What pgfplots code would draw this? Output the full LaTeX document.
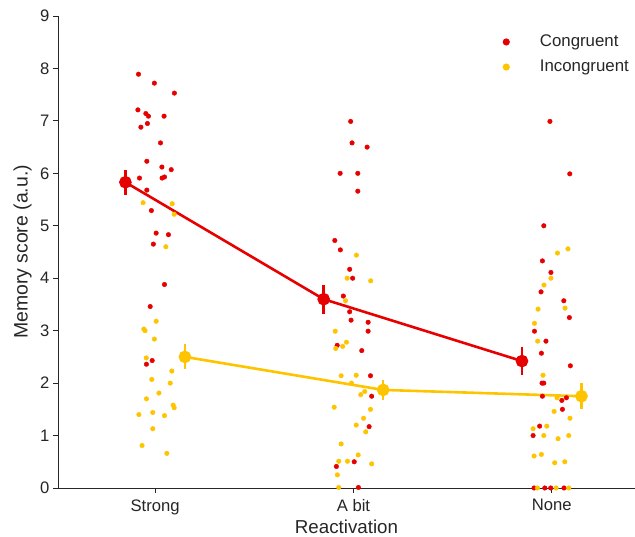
\documentclass[border=0pt]{standalone}
\usepackage{pgfplots}
\pgfplotsset{compat=1.18}
\usepackage{fontspec}
\setmainfont{Liberation Sans}
\usetikzlibrary{calc}
\definecolor{cred}{RGB}{230,0,0}
\definecolor{cyel}{RGB}{255,196,0}
\definecolor{spine}{RGB}{38,38,38}
\begin{document}
\begin{tikzpicture}
\begin{axis}[
  name=ax,
  scale only axis,
  width=577bp, height=472bp,
  xmin=-0.49, xmax=2.42, ymin=0, ymax=9,
  axis x line*=bottom, axis y line*=left,
  axis line style={spine, line width=0.9bp},
  xtick={0,1,2}, xticklabels={Strong,A bit,None},
  ytick={0,1,2,3,4,5,6,7,8,9},
  tick align=outside,
  major tick length=5bp,
  tick style={spine, line width=0.9bp},
  /pgf/number format/assume math mode=true,
  ticklabel style={font=\fontsize{16.7}{20}\selectfont, text=spine},
  xticklabel style={yshift=-3bp},
  xlabel={Reactivation}, ylabel={Memory score (a.u.)},
  every axis x label/.style={at={(axis description cs:0.5,-0.0816)}, anchor=center,
     font=\fontsize{18.8}{22}\selectfont, text=spine},
  every axis y label/.style={at={(axis description cs:-0.0615,0.5)}, anchor=center, rotate=90,
     font=\fontsize{19.5}{22}\selectfont, text=spine},
  clip=false,
  legend style={draw=none, fill=none, at={(1,1)}, anchor=north east,
    xshift=-6bp, yshift=-18bp, inner xsep=0pt, inner ysep=0pt,
    nodes={inner sep=0pt, text height=12bp, text depth=3.5bp},
    font=\fontsize{16.9}{20}\selectfont, text=spine, row sep=9.6bp,
    legend cell align=left},
  legend image code/.code={\fill[#1, draw=none] (0,0) circle (3.6bp); \path[draw=none, fill=none] (-3.6bp,0) (33.6bp,0);},
]
\addlegendimage{cred}
\addlegendentry{Congruent}
\addlegendimage{cyel}
\addlegendentry{Incongruent}
% Congruent strip
\addplot[only marks, mark=*, mark size=2.3pt, color=cred, forget plot] coordinates {
(-0.084,7.89)(-0.004,7.72)(0.097,7.53)(-0.087,7.21)(-0.047,7.14)(-0.034,7.09)(0.045,7.09)
(-0.039,6.95)(-0.072,6.88)(0.027,6.58)(-0.042,6.23)(0.034,6.12)(0.081,6.07)(0.047,5.93)
(0.035,5.91)(-0.079,5.91)(-0.042,5.68)(-0.019,5.29)(0.005,4.86)(0.067,4.83)(-0.009,4.65)
(0.047,3.88)(-0.025,3.46)(-0.015,2.43)(-0.044,2.36)
(0.986,6.99)(0.993,6.58)(1.069,6.50)(0.933,6.00)(1.022,6.00)(1.022,5.66)(0.906,4.72)
(0.934,4.54)(0.981,4.17)(0.996,4.00)(0.949,3.66)(0.981,3.36)(0.988,3.20)(1.074,3.16)
(1.074,2.99)(0.918,2.72)(1.042,2.62)(1.086,2.14)(1.092,1.75)(1.079,1.17)(1.004,0.50)
(0.914,0.41)(1.025,0.01)
(1.991,6.99)(2.091,5.99)(1.960,5.00)(1.953,4.33)(1.996,4.11)(1.946,3.74)(2.061,3.57)
(2.089,3.25)(1.913,2.99)(1.971,2.80)(1.948,2.57)(2.094,2.33)(1.951,2.00)(1.960,2.00)
(1.953,1.75)(2.051,1.67)(2.074,1.72)(2.054,1.50)(1.939,1.18)(1.906,1.00)(1.911,0)
(1.965,0)(1.995,0)(2.062,0)
};
% Incongruent strip
\addplot[only marks, mark=*, mark size=2.3pt, color=cyel, forget plot] coordinates {
(-0.061,5.44)(0.086,5.42)(0.096,5.22)(0.054,4.60)(0.005,3.18)(-0.057,3.03)(-0.051,3.00)
(-0.004,2.84)(-0.045,2.48)(0.084,2.23)(-0.017,2.07)(0.076,2.00)(0.019,1.81)(-0.044,1.70)
(0.091,1.58)(0.096,1.53)(-0.082,1.40)(-0.012,1.44)(0.047,1.38)(-0.012,1.13)(-0.066,0.81)
(0.059,0.66)
(1.015,4.44)(0.968,4.00)(1.087,3.95)(0.960,3.57)(0.908,2.99)(0.965,2.78)(0.946,2.70)
(0.911,2.66)(0.938,2.14)(1.014,2.15)(0.990,2.00)(1.057,1.84)(1.037,1.78)(0.903,1.54)
(1.086,1.50)(1.051,1.33)(1.014,1.20)(1.062,1.07)(0.938,0.84)(1.024,0.63)(0.926,0.51)
(0.970,0.51)(1.092,0.46)(0.919,0.25)(0.926,0.01)
(2.082,4.56)(2.029,4.48)(1.996,4.00)(1.961,3.87)(1.931,3.41)(2.067,3.43)(1.913,3.14)
(1.929,2.80)(1.956,2.15)(2.027,1.72)(2.012,1.46)(2.092,1.33)(1.975,1.18)(1.906,1.13)
(1.960,1.00)(2.032,0.94)(2.086,1.00)(1.911,0.61)(1.948,0.64)(2.015,0.48)(2.066,0.50)
(1.928,0)(2.022,0)(2.086,0)
};
% Means
\addplot[cred, line width=2.6bp, mark=*, mark size=5pt, forget plot,
  error bars/.cd, y dir=both, y explicit,
  error bar style={line width=2.6bp}, error mark=none] coordinates {
(-0.15,5.83) +- (0,0.24)
(0.85,3.60) +- (0,0.28)
(1.85,2.42) +- (0,0.27)
};
\addplot[cyel, line width=2.6bp, mark=*, mark size=5pt, forget plot,
  error bars/.cd, y dir=both, y explicit,
  error bar style={line width=2.6bp}, error mark=none] coordinates {
(0.15,2.50) +- (0,0.24)
(1.15,1.87) +- (0,0.19)
(2.15,1.75) +- (0,0.25)
};
\end{axis}
\pgfresetboundingbox
\path ($(ax.south west)+(-58bp,-49bp)$) rectangle ($(ax.north east)+(0bp,16bp)$);
\end{tikzpicture}
\end{document}
